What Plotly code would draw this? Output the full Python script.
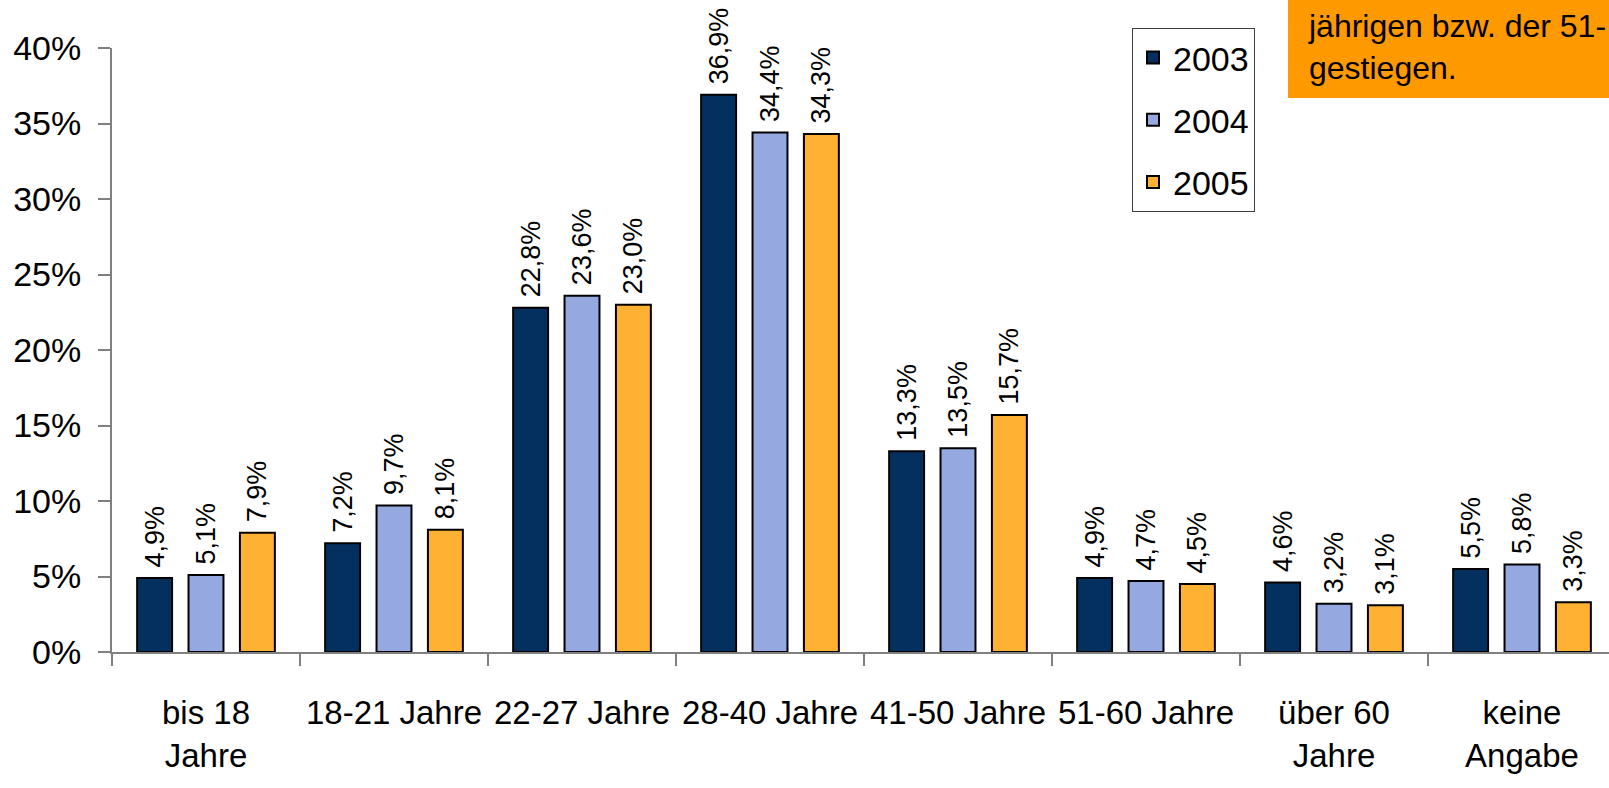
import plotly.graph_objects as go

categories = ["bis 18<br>Jahre", "18-21 Jahre", "22-27 Jahre", "28-40 Jahre",
              "41-50 Jahre", "51-60 Jahre", "über 60<br>Jahre", "keine<br>Angabe"]
years = ["2003", "2004", "2005"]
v2003 = [4.9, 7.2, 22.8, 36.9, 13.3, 4.9, 4.6, 5.5]
v2004 = [5.1, 9.7, 23.6, 34.4, 13.5, 4.7, 3.2, 5.8]
v2005 = [7.9, 8.1, 23.0, 34.3, 15.7, 4.5, 3.1, 3.3]
colors = ["#03305E", "#95A8E0", "#FFB133"]
box_lines = ["jährigen bzw. der 51- bis 60-", "gestiegen."]

FONT = "Liberation Sans, Arial, sans-serif"
W, H = 1620, 788
L, R, T, B = 112, 4, 48, 136
PW, PH = W - L - R, H - T - B

def fmt(v):
    return "\u00a0" + f"{v:.1f}%".replace(".", ",")

fig = go.Figure()
for name, vals, col in zip(years, [v2003, v2004, v2005], colors):
    fig.add_trace(go.Bar(
        name=name, x=categories, y=vals, legendgroup=name,
        marker=dict(color=col, line=dict(color="black", width=2)),
        text=[fmt(v) for v in vals], textposition="outside", textangle=-90,
        textfont=dict(family=FONT, size=27, color="black"),
        cliponaxis=False, constraintext="none",
    ))

fig.update_layout(
    width=W, height=H,
    margin=dict(l=L, r=R, t=T, b=B, autoexpand=False),
    paper_bgcolor="white", plot_bgcolor="white",
    barmode="group", bargap=0.18, bargroupgap=0.32,
    font=dict(family=FONT, color="black"),
    legend=dict(
        x=1132/W, y=1-28/H, xref="container", yref="container",
        xanchor="left", yanchor="top",
        bordercolor="#404040", borderwidth=1, bgcolor="white",
        font=dict(family=FONT, size=34, color="black"),
        tracegroupgap=15, itemwidth=30,
    ),
    showlegend=True,
)
fig.update_xaxes(
    type="category", range=[-0.5, 7.5],
    showline=True, linecolor="#808080", linewidth=2,
    ticks="outside", ticklen=12, tickcolor="#808080", tickwidth=2,
    tickson="boundaries", showgrid=False, tickangle=0,
    tickfont=dict(family=FONT, size=33, color="black"),
    ticklabelstandoff=30,
)
fig.update_yaxes(
    range=[0, 40], dtick=5, ticksuffix="%",
    showline=True, linecolor="#808080", linewidth=2,
    ticks="outside", ticklen=12, tickcolor="#808080", tickwidth=2,
    showgrid=False, zeroline=False,
    tickfont=dict(family=FONT, size=34, color="black"),
    ticklabelstandoff=10,
)

# orange note box (cut off at the top/right like the reference)
fig.add_shape(type="rect", xref="paper", yref="paper",
              x0=(1288-L)/PW, x1=1.05, y0=(H-B-98)/PH, y1=1.2,
              fillcolor="#FF9900", line=dict(width=0), layer="above")
fig.add_annotation(xref="paper", yref="paper",
                   x=(1306-L)/PW, y=(H-B-6)/PH, xanchor="left", yanchor="top",
                   text="<br>".join(box_lines), showarrow=False, align="left",
                   font=dict(family=FONT, size=32, color="black"))

fig.write_html(
    "out.html",
    config={"displayModeBar": False},
    post_script="document.body.style.margin='0';"
                "document.body.style.overflow='hidden';"
                "document.documentElement.style.overflow='hidden';",
)
